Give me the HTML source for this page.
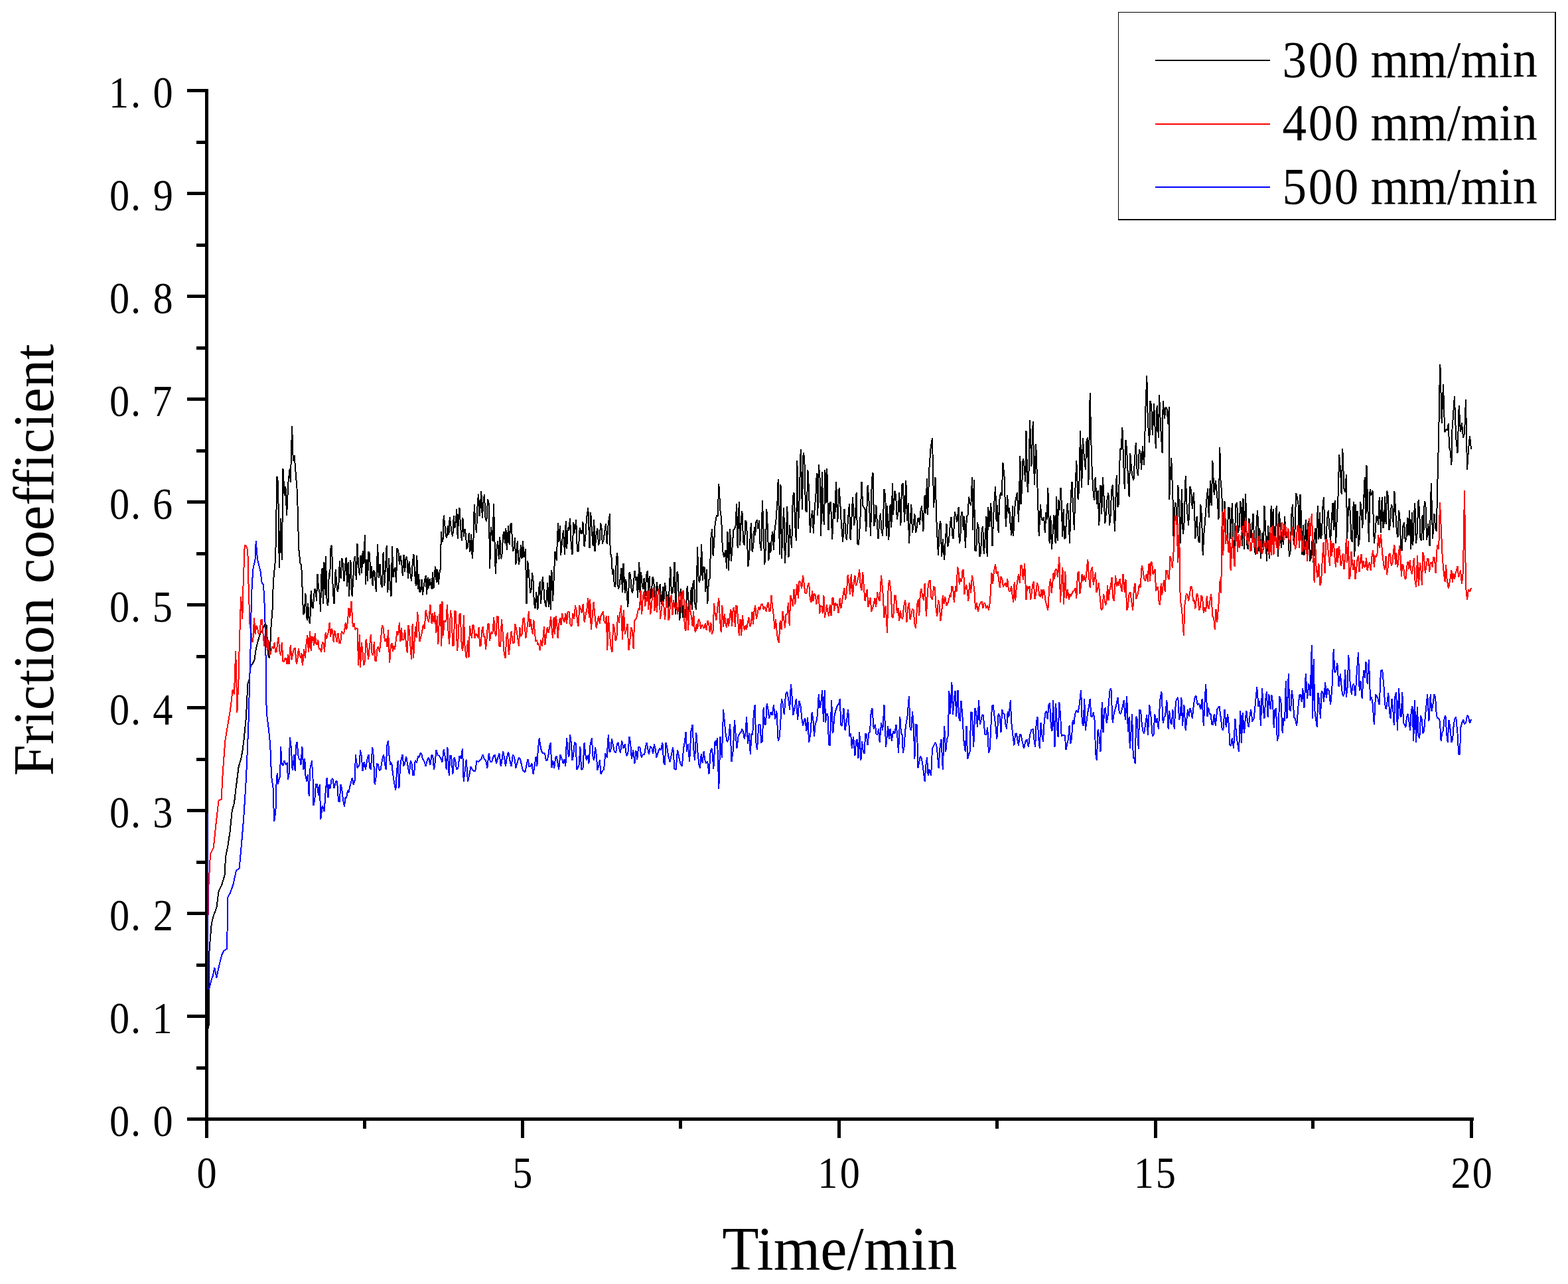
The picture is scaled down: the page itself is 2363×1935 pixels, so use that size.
<!DOCTYPE html>
<html><head><meta charset="utf-8"><title>Friction coefficient vs time</title>
<style>html,body{margin:0;padding:0;background:#fff;overflow:hidden}svg{display:block}</style>
</head><body>
<svg width="2363" height="1935" viewBox="0 0 2363 1935">
<rect width="100%" height="100%" fill="#fff"/>
<g fill="#000">
<rect x="309" y="134" width="5" height="1555"/>
<rect x="282" y="1684" width="1939" height="5"/>
<rect x="282" y="134.0" width="27" height="5"/>
<rect x="282" y="289.0" width="27" height="5"/>
<rect x="282" y="444.0" width="27" height="5"/>
<rect x="282" y="599.0" width="27" height="5"/>
<rect x="282" y="754.0" width="27" height="5"/>
<rect x="282" y="909.0" width="27" height="5"/>
<rect x="282" y="1064.0" width="27" height="5"/>
<rect x="282" y="1219.0" width="27" height="5"/>
<rect x="282" y="1374.0" width="27" height="5"/>
<rect x="282" y="1529.0" width="27" height="5"/>
<rect x="282" y="1684.0" width="27" height="5"/>
<rect x="296" y="212" width="13" height="5"/>
<rect x="296" y="367" width="13" height="5"/>
<rect x="296" y="522" width="13" height="5"/>
<rect x="296" y="677" width="13" height="5"/>
<rect x="296" y="832" width="13" height="5"/>
<rect x="296" y="987" width="13" height="5"/>
<rect x="296" y="1142" width="13" height="5"/>
<rect x="296" y="1297" width="13" height="5"/>
<rect x="296" y="1452" width="13" height="5"/>
<rect x="296" y="1607" width="13" height="5"/>
<rect x="309" y="1689" width="5" height="26"/>
<rect x="785" y="1689" width="5" height="26"/>
<rect x="1262" y="1689" width="5" height="26"/>
<rect x="1739" y="1689" width="5" height="26"/>
<rect x="2215" y="1689" width="5" height="26"/>
<rect x="547" y="1689" width="5" height="12"/>
<rect x="1023" y="1689" width="5" height="12"/>
<rect x="1500" y="1689" width="5" height="12"/>
<rect x="1976" y="1689" width="5" height="12"/>
</g>
<path d="M314.5,1550.0 315.0,1480.0 315.3,1440.0 315.6,1430.0 318.7,1392.6 321.8,1380.0 326.4,1367.7 329.6,1343.0 334.2,1333.5 338.9,1318.0 339.8,1293.0 343.5,1274.0 346.7,1252.6 349.8,1221.5 352.9,1210.7 356.0,1184.0 356.3,1182.3 359.7,1155.1 363.1,1143.8 365.3,1132.5 367.6,1114.3 371.0,1080.4 373.3,1030.6 375.5,1023.8 377.8,1003.4 380.1,1001.1 383.5,994.3 385.7,978.5 389.1,964.9 392.5,953.6 394.8,951.3 399.3,940.0 401.6,942.3 403.8,985.3 406.1,992.1 407.2,974.0 408.4,946.8 410.6,917.4 411.8,878.9 412.9,865.3 415.2,842.6 417.4,717.7 419.1,727.0 420.8,855.8 423.1,781.1 424.8,844.4 426.5,706.4 428.7,747.2 430.4,733.2 432.1,776.6 434.4,726.8 436.7,706.4 437.8,726.8 440.1,641.9 441.8,695.2 443.5,686.0 445.7,713.2 448.0,742.6 450.2,826.4 452.5,849.1 454.2,851.1 455.9,894.3 457.0,926.0 458.7,923.9 460.4,894.3 462.7,935.1 464.2,909.1 465.7,934.8 467.2,939.6 468.7,890.0 470.2,914.3 471.8,917.0 474.0,887.5 475.5,888.6 477.0,905.5 478.5,864.9 480.1,886.5 481.6,893.3 483.1,921.5 484.2,867.2 485.6,856.4 487.0,909.8 488.5,847.3 489.9,896.6 491.0,837.7 492.7,910.0 494.4,912.5 495.8,862.7 497.2,868.6 498.6,823.0 500.1,821.9 501.8,891.7 503.5,910.2 505.7,858.1 507.2,879.0 508.7,892.0 510.2,885.3 511.9,844.9 513.6,872.2 515.3,840.7 517.0,851.3 518.5,876.0 520.1,852.9 521.6,840.0 523.1,884.0 524.6,846.9 526.1,898.9 528.4,844.5 530.6,898.9 532.1,875.4 533.6,844.4 535.1,837.7 536.8,873.8 538.5,819.5 540.2,853.4 541.9,867.2 543.5,837.3 545.1,864.2 546.7,830.0 548.3,850.3 549.9,806.0 551.0,880.8 552.5,843.1 554.0,875.5 555.5,830.9 557.0,834.6 558.5,871.7 560.1,853.0 561.6,883.2 563.1,859.6 564.6,862.6 566.8,892.1 569.1,819.6 570.8,871.1 572.5,849.7 574.2,880.1 575.9,885.3 577.6,831.6 579.3,882.5 581.0,854.6 582.7,821.9 584.4,892.9 586.1,841.3 587.8,883.0 589.5,898.9 591.0,823.2 592.5,869.7 594.0,858.1 595.5,855.3 597.0,877.6 598.5,826.4 600.2,829.2 601.9,851.0 603.6,837.6 605.3,849.1 606.9,868.1 608.5,835.7 610.1,862.3 611.7,839.1 613.3,840.0 615.0,871.7 616.7,846.1 618.4,863.9 620.1,876.2 621.8,847.1 623.5,835.5 625.1,864.6 626.8,883.0 628.3,836.8 629.7,887.5 631.1,865.5 632.5,892.1 634.0,890.6 635.5,873.0 637.0,896.6 638.5,884.4 640.1,874.6 641.6,867.2 643.1,896.2 644.6,870.2 646.1,886.7 647.6,872.1 649.1,880.1 650.6,887.5 652.0,862.3 653.5,886.7 654.9,863.4 656.3,853.6 657.8,878.4 659.3,858.2 660.8,880.8 662.5,862.8 664.2,855.8 664.7,801.5 666.0,814.5 667.4,816.5 668.7,776.6 670.2,789.9 671.8,807.5 673.3,810.6 674.8,791.7 676.3,806.2 677.8,778.9 679.3,791.7 680.8,802.9 682.3,808.3 683.8,777.4 685.3,796.0 686.8,785.7 688.3,766.7 689.7,811.9 691.1,779.5 692.5,765.3 694.2,795.2 695.9,815.1 697.4,780.1 698.9,809.0 700.4,797.0 701.9,805.1 703.4,827.5 705.0,824.1 706.7,802.6 708.4,832.0 710.1,804.6 711.8,842.3 713.3,819.6 714.8,759.7 716.3,787.9 718.0,803.0 719.7,758.5 721.1,744.6 722.5,778.0 723.9,760.8 725.3,740.4 726.8,781.1 728.4,758.4 729.9,744.9 731.6,781.5 733.3,785.7 735.0,752.4 736.7,758.5 738.2,856.5 739.7,794.3 741.2,803.8 742.6,816.1 744.0,759.4 745.4,812.5 746.8,864.9 748.5,826.9 750.2,815.1 751.8,842.8 753.3,809.3 754.8,842.3 756.5,835.5 758.2,806.0 759.6,801.0 761.0,819.1 762.4,796.4 763.8,828.7 766.1,792.5 767.6,820.8 769.1,791.5 770.6,787.9 772.9,830.9 774.4,828.3 775.9,810.5 777.4,851.3 779.7,815.1 781.9,851.3 783.4,841.4 785.0,820.9 786.5,841.8 788.0,815.5 789.5,840.2 791.0,835.5 791.9,827.5 793.5,910.2 795.2,844.9 796.8,860.4 799.1,894.3 800.6,888.6 802.1,863.0 803.6,876.2 804.8,907.9 806.5,917.1 808.2,892.1 810.4,919.2 812.1,887.2 813.8,876.2 815.0,910.2 816.3,894.1 817.7,869.4 819.2,883.1 820.6,905.7 822.9,914.7 825.2,878.5 826.8,914.5 828.5,867.2 829.7,919.2 831.4,858.7 833.1,905.7 835.3,858.1 836.5,830.9 838.7,844.5 841.0,787.9 842.4,816.7 843.8,792.1 845.2,836.6 846.7,819.6 848.9,799.2 851.2,835.5 852.7,785.5 854.2,827.4 855.7,794.7 857.4,799.6 859.1,781.1 860.8,823.1 862.5,835.5 864.2,787.1 865.9,803.8 868.2,783.4 869.9,830.4 871.6,830.9 873.8,794.7 875.5,803.7 877.2,803.8 878.4,785.7 880.6,824.1 882.3,809.9 884.0,781.1 886.3,765.3 888.5,826.4 890.2,772.1 891.9,799.2 893.6,822.6 895.3,783.4 896.5,830.9 898.7,803.8 900.4,796.4 902.1,821.9 903.6,814.7 905.1,787.9 906.4,793.4 907.8,819.6 909.5,813.8 911.2,801.5 912.9,788.9 914.6,819.6 916.8,787.9 919.1,774.3 919.6,833.2 921.4,837.7 922.9,865.5 924.4,857.3 925.9,883.0 927.4,884.2 928.9,841.5 930.4,833.2 931.6,887.5 933.3,883.7 935.0,869.4 936.5,856.1 938.0,893.0 939.5,849.1 941.8,894.3 943.3,873.5 944.8,895.5 946.3,914.7 948.5,862.6 950.1,867.2 951.6,887.8 953.1,894.3 954.8,878.3 956.5,860.4 958.0,875.0 959.5,869.1 961.0,901.1 963.3,846.8 964.7,900.1 966.1,862.3 967.5,878.6 968.9,887.5 970.6,871.4 972.3,902.7 974.0,866.7 975.7,860.4 977.2,892.8 978.7,868.5 980.2,903.4 981.9,890.9 983.6,869.4 985.1,873.2 986.7,899.8 988.2,905.7 989.9,877.3 991.6,892.1 993.1,894.7 994.6,879.9 996.1,905.7 997.5,910.6 998.9,884.2 1000.3,907.4 1001.8,878.5 1003.2,884.7 1004.6,914.5 1006.0,895.8 1007.4,917.0 1008.9,882.5 1010.4,853.8 1011.9,894.3 1013.5,893.4 1015.0,881.4 1016.5,846.8 1018.2,925.5 1019.9,862.6 1021.4,861.8 1022.9,900.3 1024.4,935.1 1026.1,887.1 1027.8,914.7 1029.3,930.9 1030.8,907.3 1032.3,930.6 1034.0,915.0 1035.7,883.0 1037.2,898.9 1038.7,921.7 1040.2,919.2 1041.7,884.9 1043.1,918.9 1044.5,879.3 1045.9,874.0 1047.6,913.0 1049.3,919.2 1051.0,823.8 1052.7,874.0 1054.2,877.9 1055.7,865.0 1057.2,819.6 1058.7,874.5 1060.2,854.0 1061.8,855.8 1063.3,892.1 1064.8,857.7 1066.3,910.2 1068.0,874.4 1069.7,871.7 1071.4,810.6 1073.1,797.0 1074.6,838.0 1076.1,817.8 1077.6,790.2 1079.9,776.6 1081.6,778.1 1083.3,729.1 1085.5,769.8 1087.2,782.0 1088.9,828.7 1091.2,840.0 1093.5,828.7 1095.0,856.8 1096.5,801.3 1098.0,860.4 1100.2,797.0 1101.9,846.1 1103.6,824.1 1105.3,798.5 1107.0,797.0 1108.5,792.7 1110.1,758.8 1111.6,826.4 1113.8,756.2 1115.3,821.7 1116.8,783.9 1118.4,769.8 1120.1,816.3 1121.8,821.9 1123.5,784.1 1125.1,787.9 1127.4,853.6 1128.9,840.9 1130.4,813.6 1131.9,787.9 1133.6,831.8 1135.3,821.9 1136.8,794.4 1138.2,806.9 1139.6,785.0 1141.0,783.4 1142.5,797.0 1144.0,784.2 1145.5,819.6 1147.2,830.1 1148.9,754.0 1150.6,799.0 1152.3,851.3 1153.8,824.9 1155.3,767.5 1156.8,794.7 1158.4,845.3 1159.9,818.1 1161.4,833.2 1162.9,809.7 1164.4,801.6 1165.9,828.7 1167.6,797.2 1169.3,785.7 1171.6,754.0 1172.7,722.3 1175.0,835.5 1176.5,729.6 1178.0,841.8 1179.5,797.0 1181.2,764.7 1182.9,849.1 1184.6,816.3 1186.3,763.0 1188.5,840.0 1190.1,790.7 1191.6,811.8 1193.1,826.4 1194.8,748.3 1196.5,742.6 1198.2,791.5 1199.9,815.1 1201.4,693.7 1202.9,797.4 1204.4,758.5 1206.7,677.0 1208.9,767.5 1210.6,681.9 1212.3,690.6 1214.0,768.4 1215.7,772.1 1217.4,707.7 1219.1,740.4 1220.8,802.8 1222.5,781.1 1224.2,769.2 1225.9,803.8 1227.6,767.0 1229.3,749.4 1230.8,712.8 1232.3,776.5 1233.8,699.6 1236.1,726.8 1237.2,808.3 1238.9,711.5 1240.6,776.6 1242.0,790.6 1243.4,708.4 1244.9,757.9 1246.3,706.4 1248.5,799.2 1250.2,758.7 1251.9,756.2 1254.2,812.8 1256.5,758.5 1258.2,782.3 1259.9,726.8 1260.1,726.0 1262.3,787.2 1264.6,735.1 1266.3,759.4 1268.0,791.7 1270.2,816.6 1272.5,766.8 1274.2,802.9 1275.9,814.3 1278.2,780.4 1279.9,759.0 1281.6,814.3 1283.3,783.6 1285.0,748.7 1287.2,791.7 1288.9,778.1 1290.6,741.9 1292.3,819.9 1294.0,821.1 1296.3,784.9 1298.5,726.0 1300.2,762.3 1301.9,764.5 1303.6,767.6 1305.3,800.8 1307.6,730.6 1309.9,760.0 1312.1,807.5 1313.8,722.7 1315.5,712.5 1317.2,793.0 1318.9,784.9 1320.4,761.3 1321.9,789.3 1323.5,812.1 1325.2,786.8 1326.8,773.6 1328.5,799.4 1330.2,807.5 1332.5,737.4 1334.2,746.4 1335.9,807.5 1337.0,762.3 1339.3,814.3 1341.6,760.0 1343.3,794.6 1345.0,728.3 1346.1,775.8 1348.4,739.6 1350.1,746.2 1351.8,782.6 1353.5,772.1 1355.2,741.9 1357.4,791.7 1359.1,730.9 1360.8,728.3 1363.1,787.2 1365.3,723.8 1367.0,784.7 1368.7,757.7 1369.9,818.9 1371.6,787.8 1373.3,760.0 1375.0,802.6 1376.7,789.4 1378.4,774.0 1380.1,803.0 1381.6,795.8 1383.1,781.4 1384.6,780.4 1386.1,790.6 1387.6,768.5 1389.1,762.3 1391.4,800.8 1393.6,746.4 1395.3,774.1 1397.0,721.5 1398.2,775.8 1400.4,705.7 1402.7,674.0 1405.0,660.4 1407.2,764.5 1409.5,719.2 1411.8,796.2 1414.0,837.0 1415.7,793.2 1417.4,784.9 1419.1,839.3 1420.8,812.1 1423.1,843.8 1424.8,813.7 1426.5,789.4 1428.2,824.0 1429.9,816.6 1432.1,787.2 1433.6,778.9 1435.1,806.3 1436.7,812.1 1438.9,771.3 1440.6,778.3 1442.3,787.2 1444.6,764.5 1445.7,818.9 1447.2,813.3 1448.7,772.0 1450.2,771.3 1451.8,799.0 1453.3,777.9 1454.8,825.7 1457.0,778.1 1458.5,776.3 1460.1,748.6 1461.6,757.7 1463.3,761.7 1465.0,719.2 1466.1,798.5 1467.8,723.4 1469.5,830.2 1471.2,829.7 1472.9,787.2 1474.6,794.7 1476.3,839.2 1478.0,833.8 1479.7,798.5 1481.2,793.2 1482.7,835.0 1484.2,818.9 1486.5,778.1 1487.6,839.2 1489.3,764.0 1491.0,794.0 1493.3,757.7 1495.5,823.4 1497.8,764.5 1500.1,732.8 1501.6,785.5 1503.1,760.7 1504.6,803.0 1506.3,753.9 1508.0,741.9 1509.7,747.1 1511.4,696.6 1513.6,719.2 1515.9,794.0 1518.2,746.4 1519.7,774.3 1521.2,764.9 1522.7,791.7 1524.4,807.1 1526.1,762.3 1527.2,807.5 1528.9,768.9 1530.6,753.2 1532.9,741.9 1535.1,787.2 1537.4,687.5 1538.5,760.0 1540.1,735.4 1541.6,691.4 1543.1,696.6 1545.3,726.0 1546.5,649.1 1548.7,741.9 1550.4,715.5 1552.1,633.2 1554.4,703.4 1556.7,635.5 1558.9,730.6 1561.2,669.4 1563.5,735.1 1565.7,807.5 1568.0,760.0 1569.7,781.9 1571.4,784.9 1573.1,779.0 1574.8,803.0 1576.3,772.5 1577.8,782.9 1579.3,735.1 1581.6,818.9 1583.3,777.4 1585.0,827.9 1586.7,802.7 1588.4,775.8 1590.6,818.9 1592.1,748.3 1593.6,814.8 1595.1,753.2 1596.8,768.8 1598.5,735.1 1599.7,757.7 1601.2,808.5 1602.7,767.5 1604.2,812.1 1605.7,811.1 1607.2,778.8 1608.7,757.7 1610.4,780.7 1612.1,818.9 1613.8,746.1 1615.5,726.0 1617.2,766.4 1618.9,798.5 1620.6,731.6 1622.3,694.3 1624.6,753.2 1626.3,735.9 1628.0,649.1 1630.2,735.1 1631.9,659.9 1633.6,685.3 1635.9,707.9 1637.4,666.0 1638.9,659.0 1640.4,730.6 1642.7,592.5 1645.0,692.1 1647.2,737.4 1648.9,753.5 1650.6,719.2 1652.9,760.0 1654.6,739.1 1656.3,791.7 1658.5,730.6 1660.2,775.1 1661.9,719.2 1663.6,749.1 1665.3,789.4 1667.0,771.9 1668.7,750.9 1670.4,742.7 1672.1,791.7 1673.6,777.5 1675.1,739.6 1676.7,730.6 1678.4,766.5 1680.1,800.8 1681.2,757.7 1682.7,716.5 1684.2,764.4 1685.7,760.0 1688.0,676.2 1689.7,677.5 1691.4,644.5 1693.1,693.8 1694.8,737.4 1696.5,663.0 1698.2,678.5 1699.9,718.4 1701.6,748.7 1703.3,682.9 1705.0,705.7 1706.7,718.5 1708.4,723.8 1710.1,690.6 1711.8,667.2 1713.4,706.7 1715.1,717.0 1716.8,677.2 1718.5,683.0 1720.2,708.2 1721.9,671.7 1724.2,701.1 1726.5,612.8 1728.3,566.4 1729.9,640.0 1730.1,640.0 1732.3,667.2 1733.5,603.8 1735.2,611.2 1736.8,655.8 1739.1,608.3 1740.5,642.5 1741.8,676.2 1743.6,610.6 1745.9,660.4 1747.0,594.7 1749.3,646.8 1751.6,683.0 1752.7,603.8 1755.0,630.9 1756.7,613.3 1758.4,615.1 1760.6,640.0 1761.8,612.8 1762.2,753.2 1763.7,718.2 1765.2,689.8 1767.4,746.4 1768.5,807.5 1770.8,757.7 1772.3,759.2 1773.8,794.1 1775.3,730.6 1777.0,760.9 1778.7,818.9 1781.0,737.4 1782.7,805.2 1784.4,791.7 1786.7,717.0 1788.9,769.1 1791.2,791.7 1793.5,732.8 1795.2,739.8 1796.8,766.8 1799.1,741.9 1801.4,812.1 1803.6,778.1 1805.9,814.3 1807.6,817.5 1809.3,760.0 1811.0,778.4 1812.7,837.0 1814.4,804.5 1816.1,784.9 1818.4,753.2 1820.1,736.4 1821.8,780.4 1824.0,723.8 1825.7,761.5 1827.4,694.3 1829.7,746.4 1831.9,723.8 1834.2,746.4 1836.5,782.6 1838.3,674.0 1839.6,727.4 1841.0,739.6 1843.3,791.7 1845.5,755.5 1847.8,814.3 1849.5,811.9 1851.2,764.5 1852.9,765.5 1854.6,812.1 1856.8,757.7 1858.5,813.6 1860.2,825.7 1862.5,760.0 1864.2,757.2 1865.9,803.0 1867.6,794.3 1869.3,755.5 1870.7,765.6 1872.1,822.8 1873.5,750.8 1875.0,827.9 1877.2,744.1 1878.9,818.1 1880.6,827.9 1882.3,781.1 1884.0,791.7 1885.5,810.7 1887.0,793.2 1888.5,773.6 1890.8,830.2 1892.3,836.0 1893.8,782.5 1895.3,769.1 1896.8,830.7 1898.4,795.7 1899.9,841.5 1902.1,803.0 1903.8,829.1 1905.5,762.3 1907.2,798.1 1908.9,846.0 1911.2,791.7 1912.7,841.7 1914.2,802.5 1915.7,762.3 1917.2,803.2 1918.7,766.9 1920.2,814.3 1921.9,810.4 1923.6,762.3 1925.9,839.2 1927.6,770.6 1929.3,789.4 1930.8,826.1 1932.3,801.3 1933.8,821.1 1936.1,778.1 1937.8,810.3 1939.5,809.8 1941.2,797.5 1942.9,839.2 1944.6,830.3 1946.3,775.8 1948.0,759.8 1949.7,821.1 1951.4,802.2 1953.1,743.0 1954.8,749.5 1956.5,760.0 1958.0,824.3 1959.5,744.9 1961.0,780.4 1962.5,836.3 1964.0,791.1 1965.5,837.0 1967.8,782.6 1969.3,830.6 1970.8,790.5 1972.3,784.9 1974.0,845.4 1975.7,841.5 1977.4,815.3 1979.1,848.3 1980.6,811.3 1982.1,795.6 1983.6,818.9 1985.9,762.3 1987.4,813.3 1988.9,771.8 1990.4,812.1 1991.9,804.5 1993.5,763.3 1995.0,748.7 1996.7,811.9 1998.4,814.3 2000.1,781.7 2001.8,769.1 2003.5,798.4 2005.1,816.6 2006.8,782.3 2008.5,757.7 2010.1,799.0 2011.6,754.5 2013.1,818.9 2014.8,780.7 2016.5,748.7 2018.2,685.2 2019.9,705.7 2021.6,745.4 2023.3,676.2 2025.5,737.4 2027.2,741.4 2028.9,714.7 2030.1,812.1 2031.8,771.7 2033.5,750.9 2035.0,777.5 2036.5,813.1 2038.0,816.6 2039.7,756.2 2041.4,839.2 2042.5,760.0 2044.0,811.3 2045.5,769.8 2047.0,823.4 2048.5,814.9 2050.1,755.6 2051.6,769.1 2053.3,795.9 2055.0,755.5 2056.7,719.0 2058.4,782.6 2059.5,701.1 2061.2,760.1 2062.9,816.6 2064.6,737.4 2066.3,746.4 2068.5,739.6 2070.8,818.9 2072.5,803.2 2074.2,778.1 2075.7,778.0 2077.2,791.0 2078.7,748.7 2081.0,803.0 2082.7,748.6 2084.4,796.2 2085.8,788.5 2087.2,748.3 2088.6,789.9 2090.1,739.6 2091.8,747.0 2093.5,798.5 2095.1,789.2 2096.8,760.0 2098.4,763.8 2099.9,794.9 2101.4,739.6 2103.1,769.4 2104.8,800.8 2106.5,809.6 2108.2,769.1 2109.7,784.1 2111.2,825.8 2112.7,830.2 2114.4,792.6 2116.1,787.2 2117.8,817.1 2119.5,809.8 2121.0,780.3 2122.5,806.8 2124.0,769.1 2126.3,827.9 2127.8,772.2 2129.3,822.3 2130.8,780.4 2132.3,757.6 2133.8,818.5 2135.3,809.8 2137.6,753.2 2139.1,769.9 2140.6,813.3 2142.1,814.3 2143.6,776.5 2145.1,813.5 2146.7,755.5 2148.4,759.5 2150.1,814.3 2152.3,789.4 2154.6,823.4 2156.8,728.3 2159.1,812.1 2161.4,773.6 2163.1,795.7 2164.8,800.8 2165.9,746.4 2168.2,655.8 2169.3,587.9 2170.4,549.4 2172.7,637.7 2175.0,578.9 2177.2,651.3 2179.5,646.8 2181.2,648.1 2182.9,637.7 2184.0,674.0 2185.7,679.3 2187.4,701.1 2188.5,646.8 2190.2,623.2 2191.9,597.0 2194.2,660.4 2196.5,683.0 2198.7,610.6 2201.0,651.3 2203.0,637.0 2205.0,660.0 2207.0,653.0 2209.0,602.0 2211.0,708.0 2213.0,677.0 2215.0,657.0 2217.0,677.0" fill="none" stroke="#000" stroke-width="2" stroke-linejoin="bevel" shape-rendering="crispEdges"/>
<path d="M313.2,1466.0 313.2,1403.0 314.0,1343.0 317.0,1287.0 321.8,1277.5 325.0,1246.0 329.6,1206.0 333.6,1205.0 333.6,1204.9 335.9,1161.9 339.3,1116.6 342.7,1096.2 347.2,1069.1 350.6,1039.6 352.9,1046.4 355.2,980.8 357.4,1073.6 359.7,1019.2 360.8,969.4 361.9,937.7 363.1,899.2 365.3,933.2 366.5,883.4 368.7,822.3 371.0,822.3 373.3,829.1 374.4,876.6 376.7,946.8 377.8,930.9 378.9,967.2 381.2,967.2 383.0,930.9 384.6,955.8 386.3,942.8 388.0,946.8 389.7,955.3 391.4,955.8 393.1,934.4 394.8,933.2 396.5,955.3 398.2,974.0 400.4,946.8 402.7,978.5 404.4,963.8 406.1,987.5 407.6,985.8 409.1,978.5 410.6,974.0 412.1,978.1 413.6,968.6 415.2,983.0 416.7,982.2 418.2,968.3 419.7,960.4 421.4,981.4 423.1,987.5 424.8,968.2 426.5,996.6 428.0,997.0 429.5,992.5 431.0,992.1 432.5,1001.1 434.0,985.7 435.5,1001.1 437.8,971.7 439.5,994.4 441.2,985.3 442.9,978.2 444.6,976.2 446.8,1001.1 448.4,993.5 449.9,976.7 451.4,987.5 452.9,991.3 454.4,984.3 455.9,1003.4 458.2,978.5 459.9,991.8 461.6,969.4 463.3,957.3 465.0,983.0 467.2,951.3 468.7,981.3 470.2,959.7 471.8,960.4 473.3,972.5 474.8,954.5 476.3,969.4 477.8,972.0 479.3,964.1 480.8,978.5 482.5,977.2 484.2,983.0 485.9,967.8 487.6,969.4 489.1,983.0 490.6,953.0 492.1,962.6 493.6,956.5 495.1,951.9 496.7,937.7 498.2,960.1 499.7,946.9 501.2,951.3 502.7,968.0 504.2,949.8 505.7,955.8 507.6,967.5 509.5,954.5 511.4,969.4 513.1,969.2 514.8,951.3 516.3,953.0 517.8,956.1 519.3,949.1 520.8,938.6 522.3,948.4 523.8,937.7 525.5,916.0 527.2,930.9 529.5,906.0 531.8,944.5 533.5,939.0 535.1,949.1 536.8,947.3 538.5,946.8 540.2,1003.4 541.9,955.8 543.1,1005.7 544.8,968.3 546.5,983.0 548.2,1003.0 549.9,996.6 551.6,963.1 553.3,974.0 555.1,994.2 557.0,974.2 558.9,955.8 560.6,985.6 562.3,987.5 563.8,967.4 565.3,995.0 566.8,996.6 568.5,977.8 570.2,974.0 571.9,982.7 573.6,967.2 575.9,942.3 577.4,945.0 578.9,958.8 580.4,967.2 581.9,962.1 583.5,975.3 585.0,949.1 587.2,998.9 588.9,971.7 590.6,969.4 592.1,981.5 593.6,973.0 595.1,978.5 596.8,964.4 598.5,951.3 600.2,957.2 601.9,937.7 603.5,966.7 605.0,946.3 606.5,964.9 608.4,963.5 610.2,948.8 612.1,971.7 613.8,983.6 615.5,942.3 617.0,950.4 618.5,973.7 620.1,994.3 621.6,940.4 623.1,992.0 624.6,964.9 626.1,944.5 627.6,960.8 629.1,921.9 630.8,940.5 632.5,967.2 634.2,960.7 635.9,953.6 637.8,941.2 639.7,947.9 641.6,919.6 643.1,926.6 644.6,933.3 646.1,937.7 648.4,910.6 650.6,940.0 652.1,924.6 653.6,937.9 655.1,921.9 657.4,953.6 658.9,927.8 660.4,970.7 661.9,933.2 663.6,909.6 665.3,974.0 666.5,906.0 668.0,957.7 669.5,935.0 671.0,937.7 672.5,934.2 674.0,910.8 675.5,951.3 677.2,970.7 678.9,919.6 680.6,931.1 682.3,974.0 683.8,972.1 685.3,920.6 686.8,921.9 689.1,980.8 690.6,962.0 692.1,926.9 693.6,924.2 695.9,976.2 697.4,981.0 698.9,927.0 700.4,971.7 702.7,992.1 705.0,964.9 706.5,990.9 708.0,942.9 709.5,953.6 711.0,961.8 712.5,942.5 714.0,942.3 715.5,962.2 717.0,955.2 718.5,955.8 720.1,960.6 721.6,945.2 723.1,974.0 724.6,973.3 726.1,951.1 727.6,944.5 729.1,960.1 730.6,959.1 732.1,978.5 733.6,962.2 735.1,940.7 736.7,940.0 738.2,965.9 739.7,951.8 741.2,955.8 742.7,952.3 744.2,930.2 745.7,953.6 747.4,959.0 749.1,928.7 750.8,929.4 752.5,974.0 754.2,974.6 755.9,933.2 757.8,955.8 759.7,984.4 761.6,992.1 763.3,959.8 765.0,953.6 766.8,987.1 768.7,968.9 770.6,951.3 772.9,969.4 774.6,969.0 776.3,940.0 778.2,948.0 780.1,960.8 781.9,974.0 783.4,945.2 785.0,959.3 786.5,955.8 788.2,933.1 789.9,930.9 792.3,962.3 793.8,951.0 795.3,939.3 796.8,921.5 798.4,944.5 799.9,933.4 801.4,948.7 802.9,956.2 804.4,934.3 805.9,953.2 807.4,966.8 808.9,963.9 810.4,971.3 812.1,970.3 813.8,980.4 815.3,964.6 816.8,973.8 818.4,962.3 819.9,944.5 821.4,972.4 822.9,957.7 824.8,945.4 826.7,953.7 828.5,944.1 830.1,928.9 831.6,948.0 833.1,962.3 834.6,929.9 836.1,956.1 837.6,928.3 839.1,936.9 840.6,962.0 842.1,941.9 843.8,931.0 845.5,941.8 847.2,923.9 848.9,935.1 850.6,937.9 852.3,924.3 854.0,939.5 855.7,921.5 857.6,922.3 859.5,941.0 861.4,944.1 863.3,923.7 865.2,932.4 867.0,912.5 868.5,919.2 870.1,936.6 871.6,944.1 873.3,912.5 875.0,917.0 876.8,923.4 878.7,909.9 880.6,937.4 882.5,927.5 884.4,918.3 886.3,901.1 887.8,930.6 889.3,903.5 890.8,948.7 892.7,929.2 894.6,906.6 896.5,928.3 898.7,946.4 900.4,936.7 902.1,928.0 903.8,939.7 905.5,928.3 907.2,925.4 908.9,921.5 910.6,936.4 912.3,939.6 913.8,928.0 915.3,979.8 916.8,928.3 918.7,954.5 920.6,975.3 922.5,982.6 924.2,940.1 925.9,946.4 927.6,965.5 929.3,962.3 931.0,926.9 932.7,938.6 934.4,922.9 936.1,912.5 938.0,964.2 939.9,918.6 941.8,955.5 943.6,949.6 945.5,939.7 947.4,980.4 949.3,965.3 951.2,945.2 953.1,950.9 954.6,977.9 956.1,936.3 957.6,932.8 959.1,932.4 960.6,924.5 962.1,917.0 963.8,919.3 965.5,890.2 967.2,926.1 968.9,898.9 970.6,891.6 972.3,913.5 974.0,905.0 975.7,889.8 977.2,919.4 978.7,885.6 980.2,926.0 981.8,914.9 983.3,893.6 984.8,885.3 986.5,920.6 988.2,890.2 989.9,923.1 991.6,894.3 993.3,887.0 995.0,932.8 996.7,919.1 998.4,905.7 1000.2,911.1 1002.1,934.1 1004.0,910.2 1005.7,898.1 1007.4,935.1 1008.9,930.4 1010.4,900.3 1011.9,896.6 1013.5,926.8 1015.0,904.1 1016.5,914.7 1018.0,918.1 1019.5,907.7 1021.0,926.0 1022.5,915.1 1024.0,892.0 1025.5,896.6 1027.0,924.1 1028.5,892.3 1030.1,889.8 1031.8,946.4 1033.5,950.9 1035.3,909.4 1037.2,949.7 1039.1,905.7 1040.6,922.1 1042.1,930.0 1043.6,944.1 1045.1,921.3 1046.7,947.9 1048.2,953.2 1049.7,940.2 1051.2,948.1 1052.7,932.8 1054.4,936.5 1056.1,947.7 1057.8,941.0 1059.5,944.1 1061.2,947.2 1062.9,938.8 1064.6,949.6 1066.3,935.1 1068.0,938.9 1069.7,952.4 1071.4,938.5 1073.1,955.5 1074.6,951.0 1076.1,909.2 1077.6,923.8 1079.5,934.6 1081.4,914.4 1083.3,901.1 1085.0,933.9 1086.7,953.2 1088.4,912.3 1090.1,944.9 1091.8,925.0 1093.5,939.6 1095.0,945.7 1096.5,931.8 1098.0,944.1 1099.7,929.8 1101.4,918.1 1103.1,944.1 1104.8,917.0 1106.3,915.8 1107.8,944.5 1109.3,912.5 1110.8,914.0 1112.3,937.0 1113.8,957.7 1115.5,932.7 1117.2,957.5 1118.9,927.1 1120.6,944.1 1122.1,949.8 1123.6,942.3 1125.1,948.7 1126.8,938.2 1128.5,930.6 1130.2,944.3 1131.9,939.6 1133.5,922.2 1135.0,940.6 1136.5,921.5 1138.2,911.8 1139.9,932.9 1141.6,924.2 1143.3,914.7 1145.1,920.1 1147.0,910.7 1148.9,910.2 1150.8,918.8 1152.7,914.2 1154.6,921.5 1156.1,912.3 1157.6,907.7 1159.1,921.5 1160.8,919.8 1162.5,896.6 1164.2,914.9 1165.9,928.3 1167.4,947.5 1168.9,932.7 1170.4,948.7 1172.1,963.9 1173.8,969.1 1175.7,935.1 1177.6,948.7 1179.5,921.5 1181.2,932.0 1182.9,946.4 1184.6,925.5 1186.3,926.0 1188.0,908.2 1189.7,943.2 1191.4,897.0 1193.1,903.4 1194.8,913.8 1196.5,888.2 1198.2,911.2 1199.9,892.1 1201.4,880.0 1202.9,902.2 1204.4,876.2 1206.3,876.8 1208.2,887.2 1210.1,867.2 1211.8,880.2 1213.4,894.3 1215.3,894.3 1217.2,882.4 1219.1,878.5 1220.8,902.9 1222.5,907.9 1224.0,889.7 1225.5,905.7 1227.0,894.3 1228.7,896.6 1230.4,910.9 1232.1,898.4 1233.8,896.6 1235.3,924.5 1236.8,912.0 1238.4,914.7 1239.9,924.4 1241.4,896.8 1242.9,930.6 1244.4,922.7 1245.9,911.6 1247.4,921.5 1249.1,928.8 1250.8,910.7 1252.5,927.9 1254.2,901.1 1255.7,901.3 1257.2,920.9 1258.7,907.9 1260.1,912.8 1261.8,909.8 1263.5,924.2 1265.7,901.5 1267.4,916.6 1269.1,906.0 1270.8,894.9 1272.5,885.7 1274.2,904.3 1275.9,892.5 1277.6,866.6 1279.3,876.6 1281.0,896.1 1282.7,865.3 1285.0,899.2 1286.7,878.3 1288.4,867.5 1290.1,882.9 1291.8,876.6 1293.5,870.3 1295.2,858.5 1296.8,883.6 1298.5,890.2 1300.2,862.0 1301.9,885.7 1303.6,906.1 1305.3,894.7 1306.8,888.2 1308.4,914.9 1309.9,908.3 1311.6,900.6 1313.3,921.9 1315.0,916.8 1316.7,910.6 1318.4,900.8 1320.1,915.1 1322.3,892.5 1324.0,902.4 1325.7,906.0 1328.0,867.5 1330.2,887.9 1332.5,930.9 1334.8,912.8 1337.0,953.6 1338.7,882.5 1340.4,874.3 1342.7,892.5 1344.4,930.0 1346.1,930.9 1348.4,897.0 1350.1,898.4 1351.8,924.2 1353.5,916.3 1355.2,935.5 1356.8,920.0 1358.5,930.9 1360.2,932.9 1361.9,915.1 1364.2,903.8 1366.5,937.7 1368.2,915.0 1369.9,908.3 1371.6,934.1 1373.3,926.4 1375.0,917.6 1376.7,919.6 1378.4,940.9 1380.1,946.8 1382.3,910.6 1383.8,903.4 1385.3,927.7 1386.8,894.7 1388.5,886.8 1390.2,899.2 1391.9,904.5 1393.6,878.9 1395.9,928.7 1398.2,887.9 1399.9,876.5 1401.6,874.3 1403.3,900.2 1405.0,903.8 1407.2,883.4 1408.9,886.3 1410.6,917.4 1412.3,929.0 1414.0,903.8 1415.7,912.1 1417.4,935.5 1419.1,924.0 1420.8,897.0 1422.5,910.0 1424.2,899.2 1426.5,912.8 1428.2,909.7 1429.9,903.8 1431.4,896.1 1432.9,900.1 1434.4,883.4 1436.1,885.4 1437.8,908.3 1440.1,883.4 1441.5,891.5 1443.0,854.0 1444.4,860.8 1445.7,881.1 1447.4,871.6 1449.1,876.6 1450.6,858.6 1452.1,858.5 1453.4,895.5 1454.8,885.7 1456.3,881.5 1457.8,891.0 1459.3,906.0 1461.2,877.9 1463.1,894.1 1465.0,867.5 1466.7,876.6 1468.4,890.2 1470.1,918.4 1471.8,908.3 1474.0,921.9 1476.3,910.6 1478.0,908.5 1479.7,906.0 1481.2,917.2 1482.7,909.3 1484.2,908.3 1486.1,916.5 1488.0,912.3 1489.9,919.6 1492.1,906.0 1494.4,863.0 1496.1,880.4 1497.8,861.9 1500.1,850.6 1501.8,865.0 1503.5,860.8 1505.1,873.5 1506.8,885.7 1508.5,868.8 1510.2,872.1 1511.9,884.3 1513.6,881.1 1515.1,878.0 1516.7,884.7 1518.2,872.1 1519.7,887.3 1521.2,891.9 1522.7,890.2 1524.2,883.5 1525.7,897.3 1527.2,908.3 1528.7,876.7 1530.2,905.1 1531.8,885.7 1533.5,874.3 1535.1,865.3 1536.8,879.4 1538.5,851.7 1540.2,853.3 1541.9,874.3 1544.2,849.4 1546.5,903.8 1548.2,882.9 1549.9,887.9 1551.6,882.8 1553.3,903.8 1554.8,893.3 1556.3,880.4 1557.8,876.6 1559.5,903.2 1561.2,894.7 1562.9,877.9 1564.6,883.4 1566.3,897.8 1568.0,899.2 1569.5,888.5 1571.0,901.9 1572.5,887.9 1574.0,893.0 1575.5,905.0 1577.0,910.6 1579.3,919.6 1581.6,881.1 1583.1,872.5 1584.6,894.1 1586.1,881.1 1587.6,863.5 1589.1,873.1 1590.6,858.5 1592.3,858.0 1594.0,869.8 1596.3,839.2 1598.0,907.8 1599.7,876.6 1601.4,855.0 1603.1,910.6 1605.3,860.8 1607.0,901.6 1608.7,887.9 1611.0,903.8 1612.5,895.3 1614.0,898.4 1615.5,894.7 1617.2,890.9 1618.9,890.2 1620.6,886.0 1622.3,901.5 1624.0,864.6 1625.7,860.8 1627.4,895.0 1629.1,883.4 1630.6,865.0 1632.1,876.1 1633.6,867.5 1635.9,876.6 1637.6,859.7 1639.3,842.6 1641.0,869.2 1642.7,885.7 1644.4,860.0 1646.1,854.0 1647.8,881.7 1649.5,869.8 1651.0,862.6 1652.5,893.2 1654.0,887.9 1655.7,878.3 1657.4,897.0 1659.7,919.6 1661.4,918.1 1663.1,894.7 1664.6,903.8 1666.1,912.3 1667.6,906.0 1669.1,882.3 1670.6,905.1 1672.1,890.2 1673.8,883.3 1675.5,869.8 1677.2,901.2 1678.9,906.0 1681.2,867.5 1682.9,884.3 1684.6,876.6 1686.1,882.8 1687.6,872.1 1689.1,883.4 1690.8,892.2 1692.5,865.3 1694.8,892.5 1696.5,873.2 1698.2,919.6 1699.9,914.5 1701.6,894.7 1703.4,892.5 1705.3,906.7 1707.2,919.6 1708.9,886.9 1710.6,878.9 1712.1,902.8 1713.6,898.4 1715.1,894.7 1716.8,880.8 1718.5,885.7 1720.8,851.7 1722.5,859.8 1724.2,872.1 1725.9,875.3 1727.6,865.3 1729.9,876.6 1730.1,864.1 1731.6,848.9 1733.1,876.0 1734.6,846.0 1736.1,848.5 1737.6,865.8 1739.1,861.9 1740.6,857.6 1742.1,890.7 1743.6,884.5 1745.2,884.7 1746.7,908.8 1748.2,911.7 1749.7,879.4 1751.2,897.0 1752.7,882.3 1754.2,873.8 1755.7,891.8 1757.2,859.6 1758.7,859.8 1760.2,870.5 1761.8,873.2 1763.5,838.3 1765.2,843.8 1766.8,856.0 1768.5,832.5 1770.8,778.1 1773.1,778.1 1775.3,848.3 1777.0,788.6 1778.7,904.9 1781.0,917.4 1782.5,939.9 1783.9,958.1 1785.5,910.6 1787.8,894.7 1789.5,896.0 1791.2,906.0 1792.9,895.8 1794.6,883.4 1796.3,885.8 1798.0,906.0 1799.7,903.8 1801.4,917.4 1803.6,894.7 1805.3,897.8 1807.0,919.6 1808.7,915.6 1810.4,897.0 1812.1,900.4 1813.8,924.2 1815.5,915.2 1817.2,921.9 1818.7,898.3 1820.2,913.0 1821.8,917.4 1823.5,905.1 1825.2,894.7 1827.4,928.7 1829.1,931.0 1830.8,949.1 1832.5,917.7 1834.2,937.7 1836.5,910.6 1838.7,873.2 1840.2,893.9 1841.8,771.2 1843.3,837.0 1845.5,766.8 1847.0,819.9 1848.5,806.3 1850.1,814.3 1851.6,833.2 1853.1,802.9 1854.6,859.6 1856.1,830.2 1857.6,809.5 1859.1,837.0 1860.6,854.4 1862.1,803.2 1863.6,791.7 1865.1,831.7 1866.7,805.5 1868.2,825.7 1869.7,812.0 1871.2,803.0 1872.7,791.7 1874.2,811.9 1875.7,791.1 1877.2,780.4 1879.5,814.3 1881.0,820.7 1882.5,788.3 1884.0,830.2 1885.5,830.1 1887.0,811.8 1888.5,803.0 1890.1,826.4 1891.6,810.9 1893.1,832.5 1894.6,834.5 1896.1,818.7 1897.6,807.5 1899.1,832.6 1900.6,813.7 1902.1,834.7 1903.6,826.7 1905.1,814.7 1906.7,825.7 1908.2,826.2 1909.7,815.6 1911.2,814.3 1912.7,836.9 1914.2,794.6 1915.7,837.0 1918.0,791.7 1919.5,835.6 1921.0,807.1 1922.5,809.8 1924.0,826.2 1925.5,788.7 1927.0,827.9 1928.5,813.8 1930.1,803.4 1931.6,787.2 1933.3,807.7 1935.0,814.3 1936.7,788.8 1938.4,800.8 1939.9,810.8 1941.4,796.1 1942.9,818.9 1944.4,813.4 1945.9,805.3 1947.4,794.0 1948.9,811.5 1950.4,809.3 1951.9,827.9 1953.5,821.6 1955.0,792.6 1956.5,791.7 1958.0,826.1 1959.5,796.1 1961.0,805.3 1962.5,831.9 1964.0,806.9 1965.5,825.7 1967.0,828.5 1968.5,815.5 1970.1,846.0 1971.6,812.0 1973.1,780.8 1974.6,807.5 1976.8,773.6 1979.1,832.5 1980.6,877.8 1982.1,818.3 1983.6,855.1 1985.5,870.4 1987.4,849.4 1989.3,882.3 1991.0,877.9 1992.7,846.0 1994.6,817.0 1996.5,864.4 1998.4,812.1 2000.2,814.8 2002.1,834.8 2004.0,852.8 2005.5,814.4 2007.0,838.1 2008.5,818.9 2010.1,819.8 2011.6,840.9 2013.1,855.1 2014.6,825.7 2016.1,848.3 2017.6,823.4 2019.1,830.5 2020.6,853.0 2022.1,848.3 2023.8,834.0 2025.5,858.1 2027.2,840.1 2028.9,812.1 2030.4,847.6 2031.9,815.3 2033.5,873.2 2035.0,867.6 2036.5,831.2 2038.0,848.3 2039.5,858.9 2041.0,843.8 2042.5,873.2 2044.0,859.7 2045.5,843.0 2047.0,837.0 2048.5,862.2 2050.1,842.4 2051.6,834.7 2053.1,857.1 2054.6,844.8 2056.1,855.1 2057.6,854.2 2059.1,840.6 2060.6,859.6 2062.3,852.3 2064.0,847.0 2065.7,859.5 2067.4,839.2 2069.1,829.5 2070.8,854.6 2072.5,837.5 2074.2,839.2 2075.7,833.4 2077.2,805.8 2078.7,825.7 2081.0,805.3 2083.3,834.7 2085.5,852.8 2087.0,859.3 2088.5,837.9 2090.1,866.4 2091.8,853.6 2093.5,834.7 2095.1,834.3 2096.8,852.8 2098.4,849.1 2099.9,831.8 2101.4,821.1 2102.9,850.7 2104.4,833.1 2105.9,855.1 2107.4,846.2 2108.9,821.9 2110.4,834.7 2111.9,868.8 2113.4,850.6 2115.0,852.8 2116.7,870.0 2118.4,873.2 2120.1,854.2 2121.8,846.0 2123.3,858.0 2124.8,844.6 2126.3,859.6 2127.8,865.3 2129.3,855.2 2130.8,841.5 2132.5,874.7 2134.2,884.5 2136.1,837.3 2138.0,883.4 2139.9,848.3 2141.4,857.9 2142.9,881.9 2144.4,832.5 2146.1,839.8 2147.8,864.1 2149.5,852.9 2151.2,841.5 2152.7,841.8 2154.2,862.0 2155.7,848.3 2157.2,848.0 2158.7,855.1 2160.2,839.2 2161.9,840.5 2163.6,864.1 2165.9,821.1 2168.2,827.9 2170.0,756.6 2171.6,791.7 2173.8,841.5 2176.1,866.4 2177.6,877.0 2179.1,850.9 2180.6,873.2 2182.9,886.8 2184.4,878.8 2185.9,869.4 2187.4,859.6 2188.9,877.5 2190.4,864.0 2191.9,873.2 2193.4,864.3 2195.0,860.0 2196.5,852.8 2198.0,870.1 2199.5,865.2 2201.0,859.6 2203.0,880.0 2205.0,860.0 2207.0,739.0 2209.0,884.0 2211.0,904.0 2213.0,888.0 2215.0,892.0 2217.0,886.0" fill="none" stroke="#f00" stroke-width="2" stroke-linejoin="bevel" shape-rendering="crispEdges"/>
<path d="M313.2,1226.0 313.2,1490.0 315.6,1489.0 318.7,1476.6 321.0,1470.0 323.3,1458.0 326.4,1473.5 329.6,1458.0 334.2,1439.0 337.3,1433.0 342.0,1430.0 343.5,1352.0 346.7,1346.0 351.3,1333.5 356.0,1311.8 360.7,1308.6 363.8,1274.0 366.9,1237.0 370.0,1190.0 372.1,1148.3 374.4,1091.7 376.7,1007.9 377.8,967.2 378.9,899.2 381.2,858.5 384.6,842.6 385.7,815.5 388.0,842.6 392.5,860.8 394.8,878.9 397.0,881.1 398.2,901.5 399.3,928.7 400.4,978.5 401.6,1069.1 402.5,1080.0 405.5,1104.5 407.4,1125.0 407.9,1146.6 408.9,1161.0 409.4,1172.0 411.8,1188.7 412.3,1213.0 413.3,1237.6 414.8,1227.0 415.7,1217.0 416.2,1186.7 417.7,1165.0 418.7,1182.0 421.1,1172.0 422.1,1171.0 423.1,1125.0 424.6,1151.0 426.5,1154.0 428.5,1146.6 431.0,1153.0 432.9,1149.5 433.9,1175.0 435.8,1166.0 436.8,1111.0 438.8,1126.0 440.7,1161.0 443.6,1136.8 444.6,1162.0 446.1,1123.2 447.6,1118.0 449.5,1139.0 451.0,1145.0 452.5,1144.0 453.4,1153.0 455.4,1125.0 457.4,1160.0 459.3,1143.0 460.3,1168.0 462.3,1178.0 464.0,1167.5 465.7,1200.4 467.1,1160.0 470.0,1146.6 471.5,1173.0 472.5,1214.0 474.2,1205.9 476.0,1182.0 478.0,1182.0 479.9,1198.5 481.8,1182.0 483.3,1234.7 485.8,1214.0 488.7,1223.0 490.6,1194.0 492.6,1172.0 494.5,1202.0 495.5,1182.0 497.5,1188.5 499.5,1175.0 501.4,1173.0 503.4,1188.0 506.3,1177.0 508.1,1177.2 509.9,1206.4 511.7,1209.0 513.4,1182.1 515.1,1188.0 517.0,1205.3 519.0,1216.0 520.5,1201.9 522.0,1203.0 523.9,1191.6 525.4,1194.8 526.9,1186.7 528.8,1180.2 530.8,1172.0 532.7,1183.0 535.2,1174.0 535.7,1136.8 538.6,1158.0 539.7,1155.1 541.4,1153.6 543.1,1130.2 544.8,1140.3 546.5,1161.9 548.7,1148.4 551.0,1159.6 553.3,1144.9 555.5,1137.0 557.2,1157.4 558.9,1159.6 561.2,1125.7 562.9,1140.5 564.6,1182.3 566.3,1174.9 568.0,1150.6 569.9,1152.2 571.8,1161.1 573.6,1159.6 575.9,1145.6 578.2,1137.0 579.9,1150.8 581.6,1159.6 583.3,1123.1 585.0,1116.6 586.7,1141.1 588.4,1152.8 590.1,1148.9 591.8,1164.1 594.0,1179.4 596.3,1191.3 598.0,1162.3 599.7,1146.0 601.4,1188.0 603.1,1155.1 604.8,1143.4 606.5,1137.0 608.2,1154.4 609.9,1150.6 612.1,1140.1 614.4,1152.8 616.7,1166.4 618.9,1146.0 620.6,1151.1 622.3,1168.7 624.0,1167.7 625.7,1146.0 628.0,1149.6 630.2,1139.2 631.9,1140.9 633.6,1134.7 635.3,1136.1 637.0,1143.8 639.3,1147.1 641.6,1155.1 643.8,1145.7 646.1,1141.5 648.4,1153.2 650.6,1137.0 652.3,1139.4 654.0,1159.6 655.7,1149.3 657.4,1130.2 659.7,1137.7 661.9,1139.2 664.2,1142.7 666.5,1148.3 668.7,1129.6 671.0,1141.5 672.7,1159.8 674.4,1125.7 676.7,1168.7 678.4,1138.2 680.1,1139.2 682.3,1167.3 684.6,1141.5 686.3,1146.2 688.0,1159.6 690.2,1158.5 692.5,1139.2 694.8,1143.4 697.0,1127.9 698.7,1177.5 700.4,1164.1 702.7,1144.6 705.0,1177.7 707.2,1168.3 709.5,1155.1 711.8,1159.7 714.0,1161.9 716.3,1161.6 718.5,1146.0 720.8,1148.2 723.1,1146.0 725.3,1144.1 727.6,1137.0 729.9,1144.3 732.1,1146.0 734.4,1157.4 736.7,1134.7 738.9,1148.4 741.2,1148.3 743.4,1140.4 745.7,1137.0 748.0,1151.2 750.2,1141.5 752.5,1135.7 754.8,1155.1 756.5,1144.5 758.2,1132.5 760.1,1142.1 761.9,1155.0 763.8,1141.5 766.1,1133.1 768.4,1146.0 770.6,1155.3 772.9,1137.0 775.1,1141.2 777.4,1157.4 779.7,1148.7 781.9,1141.5 784.2,1144.5 786.5,1155.1 788.2,1161.5 789.9,1161.9 791.2,1164.1 793.5,1152.7 795.7,1143.8 797.4,1155.6 799.1,1155.1 801.4,1150.7 803.6,1166.4 805.9,1152.8 807.6,1140.5 809.3,1155.1 811.0,1127.5 812.7,1112.1 815.0,1127.9 817.2,1134.7 819.5,1134.7 821.2,1135.9 822.9,1146.0 824.6,1145.8 826.3,1139.2 828.0,1125.7 829.7,1118.9 831.4,1157.3 833.1,1146.0 835.3,1157.4 837.0,1142.4 838.7,1139.2 840.4,1149.2 842.1,1159.6 844.4,1137.0 846.7,1143.8 848.9,1150.6 850.6,1144.1 852.3,1155.1 854.0,1112.2 855.7,1132.5 857.4,1141.0 859.1,1107.5 860.8,1119.3 862.5,1146.0 864.2,1137.6 865.9,1118.9 867.6,1119.7 869.3,1159.6 871.0,1156.9 872.7,1152.8 874.4,1125.3 876.1,1159.6 878.4,1158.8 880.6,1118.9 882.3,1137.1 884.0,1146.0 885.7,1138.6 887.4,1150.6 889.7,1120.9 891.9,1112.1 893.6,1141.3 895.3,1146.0 897.0,1125.9 898.7,1137.0 900.4,1160.5 902.1,1155.1 903.8,1145.2 905.5,1166.4 907.8,1161.7 910.1,1159.6 912.3,1135.2 914.6,1141.5 916.8,1107.5 918.5,1133.1 920.2,1132.5 921.9,1113.4 923.6,1121.1 925.9,1132.5 928.2,1134.7 929.9,1120.7 931.6,1118.9 933.3,1128.4 935.0,1134.7 937.2,1116.6 939.5,1127.7 941.8,1121.1 944.0,1139.2 946.3,1135.6 948.5,1109.8 950.2,1121.0 951.9,1143.8 954.2,1130.4 956.5,1150.6 958.4,1130.8 960.2,1145.3 962.1,1125.7 964.4,1125.9 966.7,1141.5 968.9,1137.2 971.2,1137.0 972.9,1126.0 974.6,1118.9 976.3,1128.5 978.0,1137.0 980.2,1124.5 982.5,1127.9 984.2,1136.1 985.9,1121.1 987.6,1128.1 989.3,1141.5 991.6,1134.2 993.8,1127.9 996.1,1130.9 998.4,1118.9 1000.1,1148.4 1001.8,1152.8 1003.5,1119.2 1005.1,1125.7 1007.4,1140.1 1009.7,1148.3 1011.9,1137.1 1014.2,1125.7 1016.5,1159.0 1018.7,1159.6 1021.0,1129.9 1023.3,1141.5 1025.5,1151.0 1027.8,1155.1 1030.1,1127.9 1031.8,1118.4 1033.5,1103.0 1035.1,1132.9 1036.8,1121.1 1039.1,1148.3 1041.4,1102.0 1043.6,1091.7 1045.3,1128.8 1047.0,1146.0 1049.3,1103.8 1051.6,1134.7 1053.3,1152.3 1055.0,1157.4 1056.8,1136.2 1058.7,1149.6 1060.6,1132.5 1062.3,1145.6 1064.0,1150.6 1066.3,1147.7 1068.5,1166.4 1070.8,1130.8 1073.1,1127.9 1075.3,1159.2 1077.6,1116.6 1079.3,1124.0 1081.0,1112.1 1083.3,1189.1 1085.5,1109.8 1087.8,1142.4 1090.1,1069.1 1091.8,1087.3 1093.5,1105.3 1095.7,1118.1 1098.0,1114.3 1100.2,1090.8 1102.5,1148.3 1104.8,1130.4 1107.0,1084.9 1108.7,1107.0 1110.4,1127.9 1112.7,1108.6 1115.0,1105.3 1116.7,1103.2 1118.4,1098.5 1120.1,1103.0 1121.8,1114.3 1123.5,1104.0 1125.1,1080.4 1127.0,1121.1 1128.9,1104.6 1130.8,1137.0 1132.5,1105.9 1134.2,1107.5 1135.9,1074.8 1137.6,1062.3 1139.3,1118.3 1141.0,1130.2 1143.3,1092.3 1145.5,1091.7 1147.2,1119.6 1148.9,1116.6 1150.6,1066.4 1152.3,1091.7 1154.0,1091.7 1155.7,1060.0 1157.4,1068.4 1159.1,1082.6 1161.4,1073.5 1163.6,1078.1 1165.9,1062.3 1168.2,1084.2 1170.4,1071.3 1172.7,1116.6 1174.4,1112.0 1176.1,1094.0 1177.8,1052.9 1179.5,1060.0 1181.8,1076.8 1184.0,1046.4 1186.3,1042.4 1188.5,1055.5 1190.2,1069.6 1191.9,1030.6 1193.6,1049.7 1195.3,1078.1 1197.6,1067.1 1199.9,1053.2 1202.1,1084.9 1204.4,1055.8 1206.7,1064.5 1208.4,1083.5 1210.1,1094.0 1211.8,1086.1 1213.4,1082.6 1215.3,1102.4 1217.2,1081.4 1219.1,1118.9 1221.4,1105.7 1223.6,1073.6 1225.3,1083.1 1227.0,1109.8 1228.7,1091.1 1230.4,1087.2 1232.1,1075.6 1233.8,1046.4 1235.5,1067.1 1237.2,1060.0 1239.1,1039.7 1241.0,1088.0 1242.9,1039.6 1244.0,1089.4 1245.7,1076.5 1247.4,1075.8 1249.1,1122.9 1250.8,1123.4 1253.1,1055.5 1255.3,1105.3 1257.6,1078.1 1259.9,1069.1 1262.3,1062.3 1264.0,1062.1 1265.7,1053.2 1267.4,1092.9 1269.1,1094.0 1271.4,1066.8 1273.6,1100.8 1275.9,1086.7 1278.2,1069.1 1280.4,1109.8 1282.1,1105.0 1283.8,1127.9 1286.1,1109.8 1288.4,1139.2 1290.1,1116.5 1291.8,1114.3 1293.5,1142.5 1295.2,1103.0 1297.4,1146.0 1299.1,1117.3 1300.8,1132.5 1302.5,1136.2 1304.2,1105.3 1305.9,1107.3 1307.6,1123.4 1309.3,1104.7 1311.0,1103.0 1312.7,1073.2 1314.4,1066.8 1316.7,1098.5 1318.9,1091.7 1320.6,1106.2 1322.3,1107.5 1324.0,1098.1 1325.7,1118.9 1328.0,1089.4 1330.2,1100.8 1332.5,1062.3 1335.2,1125.7 1338.2,1094.0 1339.9,1114.4 1341.6,1098.5 1343.8,1116.6 1346.1,1101.8 1348.4,1105.3 1350.6,1091.7 1352.3,1108.8 1354.0,1134.7 1356.3,1080.4 1358.0,1104.9 1359.7,1107.5 1360.8,1134.7 1362.5,1126.0 1364.2,1100.8 1365.9,1088.4 1367.6,1078.1 1369.9,1048.7 1371.6,1098.1 1373.3,1100.8 1375.0,1072.1 1376.7,1091.7 1378.4,1143.5 1380.1,1091.7 1381.8,1092.1 1383.5,1157.4 1385.1,1149.0 1386.8,1139.2 1388.5,1142.5 1390.2,1150.6 1391.9,1164.3 1393.6,1177.7 1395.3,1153.5 1397.0,1141.5 1398.7,1169.1 1400.4,1159.6 1403.1,1168.7 1405.0,1127.9 1407.2,1123.4 1409.5,1118.9 1411.2,1122.6 1412.9,1137.0 1414.6,1158.4 1416.3,1127.9 1418.5,1114.1 1420.8,1159.6 1423.1,1094.0 1425.3,1132.5 1427.0,1113.8 1428.7,1109.8 1430.4,1041.4 1432.1,1075.8 1434.4,1028.3 1436.1,1076.8 1437.8,1053.2 1439.5,1040.7 1441.2,1080.4 1443.5,1039.6 1445.1,1082.0 1446.8,1087.2 1448.5,1056.0 1450.2,1075.8 1452.5,1116.5 1454.8,1132.5 1456.5,1094.0 1458.2,1143.8 1459.9,1137.3 1461.6,1132.5 1463.3,1073.4 1465.0,1073.6 1467.2,1125.6 1469.5,1066.8 1471.2,1074.3 1472.9,1096.2 1475.1,1055.5 1476.8,1092.3 1478.5,1084.9 1480.2,1076.9 1481.9,1078.1 1484.2,1106.6 1486.5,1107.5 1488.2,1095.9 1489.9,1134.7 1491.6,1129.7 1493.3,1096.2 1495.0,1064.1 1496.7,1062.3 1498.9,1082.6 1500.6,1095.4 1502.3,1114.3 1504.6,1075.1 1506.8,1080.4 1508.5,1103.6 1510.2,1069.1 1511.9,1075.3 1513.6,1075.8 1515.3,1090.7 1517.0,1098.5 1518.7,1072.2 1520.4,1080.4 1522.7,1055.5 1524.4,1089.5 1526.1,1105.3 1528.4,1123.4 1530.1,1105.8 1531.8,1105.3 1533.5,1115.5 1535.1,1123.4 1536.8,1106.7 1538.5,1107.5 1540.8,1118.4 1543.1,1127.9 1545.3,1117.5 1547.6,1114.3 1549.9,1125.8 1552.1,1107.5 1554.4,1099.7 1556.7,1098.5 1558.4,1114.4 1560.1,1125.7 1561.8,1087.9 1563.5,1080.4 1565.1,1111.6 1566.8,1127.9 1568.5,1088.7 1570.2,1105.3 1571.9,1117.9 1573.6,1089.4 1575.3,1074.9 1577.0,1071.3 1578.7,1083.8 1580.4,1062.3 1582.1,1059.1 1583.8,1094.0 1585.5,1102.1 1587.2,1055.5 1589.5,1125.7 1591.2,1059.8 1592.9,1096.2 1594.6,1110.6 1596.3,1057.7 1598.0,1076.4 1599.7,1109.8 1601.4,1107.7 1603.1,1107.5 1604.8,1108.4 1606.5,1130.2 1608.2,1120.9 1609.9,1114.3 1611.6,1093.4 1613.3,1121.1 1615.0,1112.2 1616.7,1084.9 1618.4,1092.2 1620.1,1075.8 1622.3,1070.9 1624.6,1073.6 1626.8,1061.4 1629.1,1039.6 1630.8,1089.2 1632.5,1094.0 1634.2,1052.8 1635.9,1100.8 1637.6,1085.8 1639.3,1073.6 1641.0,1065.0 1642.7,1053.2 1644.4,1080.2 1646.1,1080.4 1647.8,1072.7 1649.5,1084.9 1651.2,1136.0 1652.9,1146.0 1654.6,1099.0 1656.3,1107.5 1658.5,1132.5 1660.8,1057.7 1662.5,1104.2 1664.2,1069.1 1665.9,1066.2 1667.6,1089.4 1669.3,1081.5 1671.0,1057.7 1672.7,1039.2 1674.4,1037.4 1676.7,1089.4 1678.9,1074.5 1681.2,1066.8 1682.9,1059.1 1684.6,1050.9 1686.8,1074.3 1689.1,1075.8 1691.4,1066.8 1693.6,1055.5 1695.9,1084.9 1698.2,1048.7 1699.9,1103.1 1701.6,1080.4 1702.7,1127.9 1704.4,1105.3 1706.1,1075.8 1707.8,1142.8 1709.5,1141.5 1710.6,1150.6 1712.3,1079.7 1714.0,1084.9 1715.7,1128.7 1717.4,1069.1 1719.1,1071.3 1720.8,1091.7 1722.5,1101.9 1724.2,1105.3 1726.5,1089.4 1728.2,1077.3 1729.9,1107.5 1732.3,1062.3 1734.6,1080.4 1736.8,1109.8 1738.5,1107.9 1740.2,1075.8 1741.9,1089.3 1743.6,1082.6 1745.9,1098.5 1748.2,1055.5 1750.4,1041.9 1752.7,1089.4 1754.4,1081.5 1756.1,1078.1 1758.4,1055.5 1760.6,1098.5 1762.3,1071.3 1764.0,1089.4 1765.7,1092.1 1767.4,1069.1 1769.7,1098.5 1771.9,1057.7 1773.6,1053.4 1775.3,1050.9 1777.0,1085.1 1778.7,1078.1 1780.4,1051.0 1782.1,1094.0 1784.4,1062.3 1786.7,1100.8 1788.4,1084.3 1790.1,1069.1 1791.8,1079.9 1793.5,1066.8 1795.2,1071.8 1796.8,1082.6 1799.1,1060.0 1800.8,1050.2 1802.5,1048.7 1804.8,1062.3 1807.0,1059.9 1809.3,1069.1 1811.6,1053.2 1813.8,1094.0 1815.5,1058.5 1817.2,1030.6 1819.5,1080.4 1821.2,1066.6 1822.9,1075.8 1824.6,1076.0 1826.3,1091.7 1828.0,1092.5 1829.7,1075.8 1831.9,1094.0 1834.2,1069.1 1835.9,1066.3 1837.6,1064.5 1839.9,1082.6 1841.6,1097.9 1843.3,1100.8 1845.5,1069.1 1847.8,1096.2 1850.1,1075.8 1851.8,1091.9 1853.5,1123.4 1855.1,1123.7 1856.8,1112.1 1859.1,1127.9 1861.4,1082.6 1863.1,1106.4 1864.8,1118.9 1867.0,1132.5 1869.3,1071.3 1871.0,1119.6 1872.7,1073.6 1875.0,1105.3 1876.7,1084.9 1878.4,1071.3 1880.1,1087.8 1881.8,1096.2 1883.5,1079.5 1885.1,1069.1 1887.4,1087.4 1889.7,1082.6 1891.9,1060.0 1894.2,1035.1 1896.5,1064.5 1898.2,1056.1 1899.9,1094.0 1902.1,1037.4 1903.8,1068.7 1905.5,1082.6 1907.2,1054.3 1908.9,1041.9 1910.6,1081.3 1912.3,1046.4 1914.6,1069.1 1916.3,1047.1 1918.0,1057.7 1919.7,1096.7 1921.4,1069.1 1923.1,1067.8 1924.8,1116.6 1926.5,1110.8 1928.2,1048.7 1930.4,1056.9 1932.7,1105.3 1934.4,1082.1 1936.1,1087.2 1937.8,1026.0 1939.5,1082.6 1941.8,1014.7 1943.5,1069.6 1945.1,1071.3 1946.8,1040.3 1948.5,1053.2 1950.2,1081.6 1951.9,1082.6 1954.2,1094.0 1956.5,1064.5 1958.2,1047.8 1959.9,1046.4 1961.6,1057.9 1963.3,1037.4 1965.5,1066.8 1967.8,1014.7 1970.1,1053.2 1972.3,1030.6 1974.6,1048.7 1976.8,971.7 1978.0,1082.6 1979.7,993.5 1981.4,1071.3 1983.1,1084.4 1984.8,1096.2 1986.5,1044.1 1988.2,1055.5 1989.9,1082.6 1991.6,1041.9 1993.3,1042.6 1995.0,1057.7 1997.2,1028.3 1998.9,1052.3 2000.6,1037.4 2002.9,1041.0 2005.1,1062.3 2007.4,1037.4 2009.7,978.5 2011.4,1012.7 2013.1,1012.5 2015.3,998.9 2017.6,1035.1 2019.9,1015.3 2022.1,1039.6 2023.8,1049.0 2025.5,1046.4 2027.2,1008.9 2028.9,1050.9 2030.6,1035.6 2032.3,987.5 2034.6,1028.3 2036.8,1046.4 2038.5,1033.2 2040.2,1030.6 2042.5,1048.7 2044.8,1012.5 2047.0,983.0 2048.7,1040.7 2050.4,1026.0 2052.7,1053.2 2055.0,1010.2 2056.7,1022.0 2058.4,996.6 2060.6,1030.6 2062.9,994.3 2065.1,1055.5 2066.8,1050.3 2068.5,1060.0 2070.8,1091.7 2073.1,1046.4 2074.8,1048.6 2076.5,1053.2 2078.7,1062.3 2081.0,1010.2 2083.3,1010.2 2085.5,1035.1 2087.2,1061.6 2088.9,1069.1 2090.6,1056.9 2092.3,1044.1 2094.0,1073.3 2095.7,1082.6 2097.4,1052.7 2099.1,1066.8 2100.8,1093.4 2102.5,1048.7 2104.2,1043.3 2105.9,1100.8 2108.2,1037.4 2109.9,1077.5 2111.6,1080.4 2113.3,1043.2 2115.0,1089.4 2116.7,1092.0 2118.4,1096.2 2120.1,1079.8 2121.8,1075.8 2123.4,1086.8 2125.1,1100.8 2126.8,1071.1 2128.5,1064.5 2130.2,1117.4 2131.9,1055.5 2134.2,1118.9 2135.9,1064.8 2137.6,1107.5 2139.3,1112.9 2141.0,1078.1 2142.7,1084.2 2144.4,1105.3 2146.1,1101.0 2147.8,1080.4 2149.5,1063.6 2151.2,1046.4 2153.4,1087.2 2155.7,1046.4 2157.4,1072.2 2159.1,1064.5 2161.4,1046.4 2163.1,1050.4 2164.8,1078.1 2166.5,1082.3 2168.2,1082.6 2169.9,1087.3 2171.6,1116.6 2173.3,1104.7 2175.0,1100.8 2176.7,1081.6 2178.4,1078.1 2180.1,1105.8 2181.8,1118.9 2183.4,1084.7 2185.1,1094.0 2187.4,1118.9 2189.1,1114.5 2190.8,1091.7 2192.5,1083.1 2194.2,1080.4 2196.5,1105.3 2198.2,1136.7 2199.9,1137.0 2201.4,1095.8 2203.0,1090.0 2205.3,1084.0 2207.0,1092.0 2209.3,1088.0 2211.0,1078.0 2213.0,1080.0 2215.0,1090.0 2217.0,1084.0" fill="none" stroke="#00f" stroke-width="2" stroke-linejoin="bevel" shape-rendering="crispEdges"/>
<g font-family="Liberation Serif, serif" font-size="67" fill="#000">
<text transform="scale(0.9,1)" x="182.32 218.85 256.03" y="162.5">1.0</text>
<text transform="scale(0.9,1)" x="183.25 218.85 256.32" y="317.5">0.9</text>
<text transform="scale(0.9,1)" x="183.25 218.85 256.03" y="472.5">0.8</text>
<text transform="scale(0.9,1)" x="183.25 218.85 254.78" y="627.5">0.7</text>
<text transform="scale(0.9,1)" x="183.25 218.85 255.59" y="782.5">0.6</text>
<text transform="scale(0.9,1)" x="183.25 218.85 255.39" y="937.5">0.5</text>
<text transform="scale(0.9,1)" x="183.25 218.85 255.90" y="1092.5">0.4</text>
<text transform="scale(0.9,1)" x="183.25 218.85 255.73" y="1247.5">0.3</text>
<text transform="scale(0.9,1)" x="183.25 218.85 256.40" y="1402.5">0.2</text>
<text transform="scale(0.9,1)" x="183.25 218.85 255.10" y="1557.5">0.1</text>
<text transform="scale(0.9,1)" x="183.25 218.85 256.03" y="1712.5">0.0</text>
<text transform="scale(0.9,1)" x="329.36" y="1790.0">0</text>
<text transform="scale(0.9,1)" x="858.17" y="1790.0">5</text>
<text transform="scale(0.9,1)" x="1369.21 1406.47" y="1790.0">10</text>
<text transform="scale(0.9,1)" x="1898.65 1935.28" y="1790.0">15</text>
<text transform="scale(0.9,1)" x="2429.40 2465.36" y="1790.0">20</text>
</g>
<text transform="translate(1265.5,1912.6) scale(0.975,1)" text-anchor="middle" font-family="Liberation Serif, serif" font-size="93" fill="#000" style="font-variant-ligatures:none">Time/min</text>
<text transform="translate(80,843.8) rotate(-90) scale(0.975,1)" text-anchor="middle" font-family="Liberation Serif, serif" font-size="87" fill="#000" style="font-variant-ligatures:none">Friction coefficient</text>
<rect x="1685.5" y="18.5" width="658" height="312" fill="none" stroke="#000" stroke-width="1"/>
<rect x="2343" y="18" width="2" height="314" fill="#000"/>
<rect x="1685" y="330" width="660" height="2" fill="#000"/>
<line x1="1741" y1="91" x2="1914" y2="91" stroke="#000" stroke-width="2"/>
<text transform="scale(0.93,1)" x="2077.85 2120.03 2162.23" y="116.3" font-family="Liberation Serif, serif" font-size="78.5" fill="#000">300</text>
<text transform="translate(2065.4,116.3) scale(0.945,1)" font-family="Liberation Serif, serif" font-size="78.5" fill="#000">mm/min</text>
<line x1="1741" y1="186.9" x2="1914" y2="186.9" stroke="#f00" stroke-width="2"/>
<text transform="scale(0.93,1)" x="2077.83 2120.03 2162.23" y="211.3" font-family="Liberation Serif, serif" font-size="78.5" fill="#000">400</text>
<text transform="translate(2065.4,211.3) scale(0.945,1)" font-family="Liberation Serif, serif" font-size="78.5" fill="#000">mm/min</text>
<line x1="1741" y1="282" x2="1914" y2="282" stroke="#00f" stroke-width="2"/>
<text transform="scale(0.93,1)" x="2077.88 2120.03 2162.23" y="306.9" font-family="Liberation Serif, serif" font-size="78.5" fill="#000">500</text>
<text transform="translate(2065.4,306.9) scale(0.945,1)" font-family="Liberation Serif, serif" font-size="78.5" fill="#000">mm/min</text>
</svg>
</body></html>
